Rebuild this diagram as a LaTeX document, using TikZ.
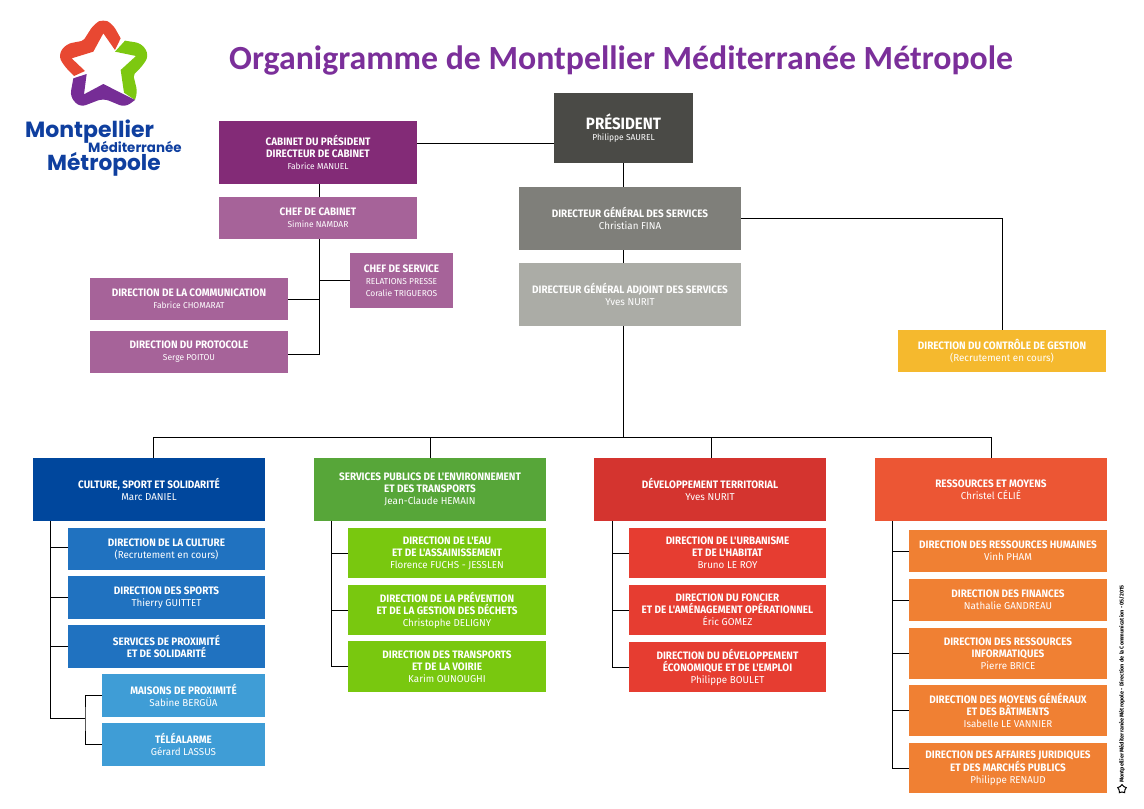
\documentclass[tikz,border=0pt]{standalone}
\usepackage{fontspec}
\setmainfont[FakeStretch=0.98]{Fira Sans}
\newfontfamily\headfont[FakeStretch=0.92]{Fira Sans}
\newfontfamily\titlefont{Carlito}
\newfontfamily\logofont{Poppins}
\usetikzlibrary{positioning,shapes.geometric}
\newcommand{\ttl}[1]{{\headfont\bfseries\fontsize{10.8}{12}\selectfont #1}}
\definecolor{cabinetcol}{RGB}{131,43,119}
\definecolor{cabsubcol}{RGB}{166,99,153}
\definecolor{presidentcol}{RGB}{74,74,70}
\definecolor{dgscol}{RGB}{127,127,122}
\definecolor{dgacol}{RGB}{171,172,166}
\definecolor{controlcol}{RGB}{245,185,46}
\definecolor{culturecol}{RGB}{0,71,157}
\definecolor{culsubcol}{RGB}{32,114,192}
\definecolor{culsubbcol}{RGB}{63,157,214}
\definecolor{envcol}{RGB}{87,166,57}
\definecolor{envsubcol}{RGB}{121,200,15}
\definecolor{devcol}{RGB}{212,52,47}
\definecolor{devsubcol}{RGB}{230,61,49}
\definecolor{rescol}{RGB}{236,86,52}
\definecolor{ressubcol}{RGB}{240,128,51}
\definecolor{titlecol}{RGB}{123,47,154}
\definecolor{logoblue}{RGB}{15,63,159}
\definecolor{starred}{RGB}{232,72,50}
\definecolor{stargreen}{RGB}{125,200,16}
\definecolor{starpurple}{RGB}{118,45,150}
\tikzstyle{org} = [rectangle, draw=none, text=white, align=center, inner sep=0pt, outer sep=0pt, font=\fontsize{10}{12}\selectfont]
\tikzstyle{small} = [font=\fontsize{8.6}{12}\selectfont]
\tikzstyle{head} = [org, minimum width=232pt, minimum height=63pt]
\tikzstyle{cabbox} = [org, small, fill=cabsubcol, minimum width=198pt, minimum height=42pt]
\tikzstyle{culbox} = [org, fill=culsubcol, minimum width=197pt, minimum height=43pt]
\tikzstyle{maibox} = [org, fill=culsubbcol, minimum width=163pt, minimum height=43pt]
\tikzstyle{envbox} = [org, fill=envsubcol, minimum width=198pt, minimum height=50pt]
\tikzstyle{devbox} = [org, fill=devsubcol, minimum width=197pt, minimum height=50pt]
\tikzstyle{resbox} = [org, fill=ressubcol, minimum width=198pt, minimum height=42pt]
\tikzstyle{logotext} = [text=logoblue, anchor=base west, inner sep=0pt]
\tikzstyle{link} = [draw=black, line width=0.9pt]

\begin{document}
\begin{tikzpicture}[x=1pt, y=-1pt]
\useasboundingbox (0,0) rectangle (1144,809);

% logo =============================
\begin{scope}[scale=1/3]
\fill[starred] (362,115) [rounded corners=6pt] -- (338,72) -- (310,57) -- (282,72) [rounded corners=2pt] -- (250,122) [rounded corners=6pt] -- (198,132) -- (175,165) -- (190,195) [sharp corners] -- (222,228) -- (255,213) -- (215,175) -- (280,155) -- (310,100) -- (345,150) -- cycle;
\fill[stargreen] (375,122) [rounded corners=6pt] -- (425,130) -- (447,165) -- (430,195) [rounded corners=2pt] -- (400,225) [rounded corners=4pt] -- (412,275) [sharp corners] -- (405,300) -- (372,278) -- (362,210) -- (408,168) -- (345,155) -- cycle;
\fill[starpurple] (260,222) -- (220,235) [rounded corners=6pt] -- (210,290) -- (240,322) -- (310,295) -- (375,322) [sharp corners] -- (405,300) -- (310,252) -- (252,283) -- cycle;
\end{scope}
\node[logotext, font=\logofont\bfseries\fontsize{22}{22}\selectfont] (lmont) at (25,137) {Montpellier};
\node[logotext, font=\logofont\bfseries\fontsize{13.4}{14}\selectfont] (lmedi) at (88,152) {Méditerranée};
\node[logotext, font=\logofont\bfseries\fontsize{21.7}{22}\selectfont] (lmetro) at (47,170) {Métropole};

% title
\node[text=titlecol, font=\titlefont\bfseries\fontsize{33.8}{34}\selectfont, anchor=base west, inner sep=0pt] (title) at (229,69) {Organigramme de Montpellier Méditerranée Métropole};

% direction =============================
\node[org, small, fill=presidentcol, minimum width=139pt, minimum height=70pt] (president) at (623.5,128) {{\headfont\bfseries\fontsize{16.4}{15}\selectfont PRÉSIDENT}\\[-1pt]Philippe SAUREL};
\node[org, fill=dgscol, minimum width=222pt, minimum height=63pt] (dgs) at (630,218.5) {\ttl{DIRECTEUR GÉNÉRAL DES SERVICES}\\Christian FINA};
\node[org, fill=dgacol, minimum width=222pt, minimum height=63pt, below=13pt of dgs] (dga) {\ttl{DIRECTEUR GÉNÉRAL ADJOINT DES SERVICES}\\Yves NURIT};
\node[org, fill=controlcol, minimum width=208pt, minimum height=42pt] (controle) at (1002,351) {\ttl{DIRECTION DU CONTRÔLE DE GESTION}\\(Recrutement en cours)};

% cabinet
\node[org, small, fill=cabinetcol, minimum width=198pt, minimum height=63pt] (cabinet) at (318,152.5) {\ttl{CABINET DU PRÉSIDENT}\\\ttl{DIRECTEUR DE CABINET}\\Fabrice MANUEL};
\node[cabbox, below=13pt of cabinet] (chef) {\ttl{CHEF DE CABINET}\\Simine NAMDAR};
\node[org, small, fill=cabsubcol, minimum width=103pt, minimum height=55pt] (presse) at (401.5,280.5) {\ttl{CHEF DE SERVICE}\\RELATIONS PRESSE\\Coralie TRIGUEROS};
\node[cabbox] (comm) at (189,299) {\ttl{DIRECTION DE LA COMMUNICATION}\\Fabrice CHOMARAT};
\node[cabbox, below=11pt of comm] (proto) {\ttl{DIRECTION DU PROTOCOLE}\\Serge POITOU};

% culture
\node[head, fill=culturecol] (culture) at (149,489.5) {\ttl{CULTURE, SPORT ET SOLIDARITÉ}\\Marc DANIEL};
\node[culbox, minimum height=42pt] (dcult) at (166.5,549) {\ttl{DIRECTION DE LA CULTURE}\\(Recrutement en cours)};
\node[culbox, below=6pt of dcult] (dsport) {\ttl{DIRECTION DES SPORTS}\\Thierry GUITTET};
\node[culbox, below=6pt of dsport] (dprox) {\ttl{SERVICES DE PROXIMITÉ}\\\ttl{ET DE SOLIDARITÉ}};
\node[maibox] (maison) at (183.5,695.5) {\ttl{MAISONS DE PROXIMITÉ}\\Sabine BERGÜA};
\node[maibox, below=6pt of maison] (tele) {\ttl{TÉLÉALARME}\\Gérard LASSUS};

% environnement
\node[head, fill=envcol] (env) at (430,489.5) {\ttl{SERVICES PUBLICS DE L'ENVIRONNEMENT}\\\ttl{ET DES TRANSPORTS}\\Jean-Claude HEMAIN};
\node[envbox] (deau) at (447,553) {\ttl{DIRECTION DE L'EAU}\\\ttl{ET DE L'ASSAINISSEMENT}\\Florence FUCHS - JESSLEN};
\node[envbox, below=7pt of deau] (ddechet) {\ttl{DIRECTION DE LA PRÉVENTION}\\\ttl{ET DE LA GESTION DES DÉCHETS}\\Christophe DELIGNY};
\node[envbox, minimum height=51pt, below=6pt of ddechet] (dvoirie) {\ttl{DIRECTION DES TRANSPORTS}\\\ttl{ET DE LA VOIRIE}\\Karim OUNOUGHI};

% territoire
\node[head, fill=devcol] (terr) at (710,489.5) {\ttl{DÉVELOPPEMENT TERRITORIAL}\\Yves NURIT};
\node[devbox] (durba) at (727.5,553) {\ttl{DIRECTION DE L'URBANISME}\\\ttl{ET DE L'HABITAT}\\Bruno LE ROY};
\node[devbox, below=7pt of durba] (dfoncier) {\ttl{DIRECTION DU FONCIER}\\\ttl{ET DE L'AMÉNAGEMENT OPÉRATIONNEL}\\Éric GOMEZ};
\node[devbox, below=7pt of dfoncier] (deco) {\ttl{DIRECTION DU DÉVELOPPEMENT}\\\ttl{ÉCONOMIQUE ET DE L'EMPLOI}\\Philippe BOULET};

% ressources
\node[head, fill=rescol] (res) at (991,489.5) {\ttl{RESSOURCES ET MOYENS}\\Christel CÉLIÉ};
\node[resbox] (drh) at (1008,551) {\ttl{DIRECTION DES RESSOURCES HUMAINES}\\Vinh PHAM};
\node[resbox, below=7pt of drh] (dfin) {\ttl{DIRECTION DES FINANCES}\\Nathalie GANDREAU};
\node[resbox, minimum height=51pt, below=7pt of dfin] (dinfo) {\ttl{DIRECTION DES RESSOURCES}\\\ttl{INFORMATIQUES}\\Pierre BRICE};
\node[resbox, minimum height=51pt, below=6pt of dinfo] (dmoyen) {\ttl{DIRECTION DES MOYENS GÉNÉRAUX}\\\ttl{ET DES BÂTIMENTS}\\Isabelle LE VANNIER};
\node[resbox, minimum height=50pt, below=7pt of dmoyen] (djur) {\ttl{DIRECTION DES AFFAIRES JURIDIQUES}\\\ttl{ET DES MARCHÉS PUBLICS}\\Philippe RENAUD};

% credit
\node[rotate=90, anchor=west, inner sep=0pt, text=black, font=\bfseries\fontsize{5.6}{7}\selectfont] (credit) at (1122,783) {Montpellier Méditerranée Métropole - Direction de la Communication - 05/2015};
\node[star, star points=5, draw=black, line width=1pt, fill=white, inner sep=0pt, minimum size=9pt] (creditstar) at (1122,789) {};

% edges =============================
\coordinate (bus) at (623.5,437);
\coordinate (busl) at (153,437);
\coordinate (busm) at (711,437);
\coordinate (cabjoin) at (417,143);
\coordinate (cabjoint) at (319,354);
\coordinate (ctrunk) at (50,521);
\coordinate (cjoin) at (85,718);
\coordinate (etrunk) at (331,521);
\coordinate (dtrunk) at (612,521);
\coordinate (rtrunk) at (892,521);

% direction edges
\draw[link] (president.south) -- (president.south |- dgs.north);
\draw[link] (president.south |- dgs.south) -- (president.south |- dga.north);
\draw[link] (president.south |- dga.south) -- (bus);
\draw[link] (dgs.east) -| (controle.north);
\draw[link] (cabjoin) -- (cabjoin -| president.west);

% edges bus to heads
\draw[link] (busl) -- (busl -| res.north);
\draw[link] (busl) -- (busl |- culture.north);
\draw[link] (busl -| env.north) -- (env.north);
\draw[link] (busm) -- (busm |- terr.north);
\draw[link] (busl -| res.north) -- (res.north);

% edges cabinet
\draw[link] (cabinet.south -| cabjoint) -- (chef.north -| cabjoint);
\draw[link] (chef.south -| cabjoint) -- (cabjoint) -- (proto.east |- cabjoint);
\draw[link] (presse.west) -- (presse.west -| cabjoint);
\draw[link] (comm.east) -- (comm.east -| cabjoint);

% edges culture
\draw[link] (ctrunk) |- ([yshift=2pt]dcult.west);
\draw[link] (ctrunk) |- (dsport.west);
\draw[link] (ctrunk) |- (dprox.west);
\draw[link] (ctrunk) |- (cjoin);
\draw[link] (maison.west) -| (cjoin) |- (tele.west);

% edges environnement
\draw[link] (etrunk) |- (deau.west);
\draw[link] (etrunk) |- (ddechet.west);
\draw[link] (etrunk) |- (dvoirie.west);

% edges territoire
\draw[link] (dtrunk) |- (durba.west);
\draw[link] (dtrunk) |- (dfoncier.west);
\draw[link] (dtrunk) |- (deco.west);

% edges ressources
\draw[link] (rtrunk) |- (drh.west);
\draw[link] (rtrunk) |- (dfin.west);
\draw[link] (rtrunk) |- (dinfo.west);
\draw[link] (rtrunk) |- (dmoyen.west);
\draw[link] (rtrunk) |- (djur.west);

\end{tikzpicture}
\end{document}
